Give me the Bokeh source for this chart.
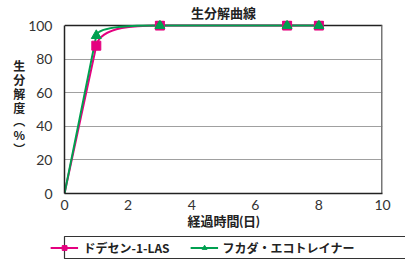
import numpy as np
from bokeh.plotting import figure
from bokeh.layouts import column
from bokeh.models import Range1d, Legend, LegendItem, FixedTicker, ColumnDataSource
from bokeh.embed import file_html
from bokeh.resources import INLINE

# ---- data ----
days = [0, 1, 3, 7, 8]
las = [0, 88, 100, 100, 100]
eco = [0, 94, 100, 100, 100]
series_names = ["ドデセン-1-LAS", "フカダ・エコトレイナー"]
x_ticks = [0, 2, 4, 6, 8, 10]
y_ticks = [0, 20, 40, 60, 80, 100]
title_text = "生分解曲線"
x_label = "経過時間(日)"
y_label = "生\n分\n解\n度\n︵\n%\n︶"

colors = ["#e4007f", "#00a050"]
markers = ["square", "triangle"]
msizes = [9, 10]
JP = "Noto Sans CJK JP"
MIX = "Lato, 'Noto Sans CJK JP'"


def smooth_segments(x, y):
    """Bezier control points for a smoothed line (rendering only)."""
    n = len(x)
    sec = [(y[i + 1] - y[i]) / (x[i + 1] - x[i]) for i in range(n - 1)]
    tan = []
    for i in range(n):
        if i == 0:
            tan.append(sec[0])
        elif i == n - 1:
            tan.append(sec[-1])
        elif y[i] in (y[i - 1], y[i + 1]):
            tan.append(0.0)
        else:
            tan.append(sec[i - 1] if abs(sec[i - 1]) > abs(sec[i]) else sec[i])
    out = dict(x0=[], y0=[], x1=[], y1=[], cx0=[], cy0=[], cx1=[], cy1=[])
    for i in range(n - 1):
        h = (x[i + 1] - x[i]) / 3.0
        lo, hi = min(y[i], y[i + 1]), max(y[i], y[i + 1])
        dx0, dy0 = h, tan[i] * h
        if y[i] + dy0 > hi and dy0 != 0:
            s = (hi - y[i]) / dy0; dx0 *= s; dy0 *= s
        if y[i] + dy0 < lo and dy0 != 0:
            s = (lo - y[i]) / dy0; dx0 *= s; dy0 *= s
        dx1, dy1 = h, tan[i + 1] * h
        if y[i + 1] - dy1 > hi and dy1 != 0:
            s = (y[i + 1] - hi) / dy1; dx1 *= s; dy1 *= s
        if y[i + 1] - dy1 < lo and dy1 != 0:
            s = (y[i + 1] - lo) / dy1; dx1 *= s; dy1 *= s
        out["x0"].append(x[i]); out["y0"].append(y[i])
        out["x1"].append(x[i + 1]); out["y1"].append(y[i + 1])
        out["cx0"].append(x[i] + dx0); out["cy0"].append(y[i] + dy0)
        out["cx1"].append(x[i + 1] - dx1); out["cy1"].append(y[i + 1] - dy1)
    return ColumnDataSource(out)


y_top = y_ticks[-1]
p = figure(frame_width=318, frame_height=173, output_backend="svg", toolbar_location=None,
           x_range=Range1d(x_ticks[0], x_ticks[-1]), y_range=Range1d(y_ticks[0], y_top * 1.03),
           min_border_left=64, min_border_right=23, min_border_top=20, min_border_bottom=40)

p.title.text = title_text
p.title.align = "center"
p.title.text_font = MIX
p.title.text_font_size = "13px"
p.title.text_font_style = "bold"
p.title.text_color = "#222222"
p.title.standoff = 0

p.xgrid.grid_line_color = None
p.ygrid.grid_line_color = "#a0a0a0"
p.ygrid.grid_line_width = 1.2
p.ygrid.ticker = FixedTicker(ticks=y_ticks[:-1])
p.outline_line_color = None

for ax in (p.xaxis[0], p.yaxis[0]):
    ax.major_tick_line_color = None
    ax.minor_tick_line_color = None
    ax.axis_line_color = "#222222"
    ax.axis_line_width = 1.5
    ax.major_label_text_font = "Lato"
    ax.major_label_text_font_size = "14px"
    ax.major_label_text_color = "#333333"
    ax.major_label_text_font_style = "normal"

p.yaxis.bounds = (y_ticks[0], y_top)
p.xaxis.ticker = FixedTicker(ticks=x_ticks)
p.yaxis.ticker = FixedTicker(ticks=y_ticks)
p.xaxis.major_label_standoff = 0
p.yaxis.major_label_standoff = 6
p.xaxis.axis_label = x_label
p.xaxis.axis_label_text_font = MIX
p.xaxis.axis_label_text_font_size = "13px"
p.xaxis.axis_label_text_font_style = "bold"
p.xaxis.axis_label_text_color = "#222222"
p.xaxis.axis_label_standoff = 0

p.yaxis.axis_label = y_label
p.yaxis.axis_label_orientation = "horizontal"
p.yaxis.axis_label_text_font = JP
p.yaxis.axis_label_text_font_size = "12px"
p.yaxis.axis_label_text_font_style = "bold"
p.yaxis.axis_label_text_color = "#222222"
p.yaxis.axis_label_text_line_height = 0.82
p.yaxis.axis_label_standoff = 0

# frame border (top at 100, right at 10)
p.segment(x0=[x_ticks[0]], y0=[y_top], x1=[x_ticks[-1]], y1=[y_top],
          line_color="#222222", line_width=1.5)
p.segment(x0=[x_ticks[-1]], y0=[y_ticks[0]], x1=[x_ticks[-1]], y1=[y_top],
          line_color="#777777", line_width=3)

for vals, col in zip([las, eco], colors):
    src = smooth_segments(days, vals)
    p.bezier(x0="x0", y0="y0", x1="x1", y1="y1", cx0="cx0", cy0="cy0",
             cx1="cx1", cy1="cy1", source=src, line_color=col, line_width=2)
for vals, col, mk, sz in zip([las, eco], colors, markers, msizes):
    mx = [d for d in days if d > days[0]]
    my = [v for d, v in zip(days, vals) if d > days[0]]
    p.scatter(mx, my, marker=mk, size=sz, fill_color=col, line_color=col)

# ---- legend strip (its frame is the legend box; series drawn outside its view) ----
q = figure(frame_width=361, frame_height=22, output_backend="svg", toolbar_location=None,
           x_axis_type=None, y_axis_type=None, x_range=Range1d(-2, -1), y_range=Range1d(-2, -1),
           min_border_left=22, min_border_right=22, min_border_top=3, min_border_bottom=1)
q.outline_line_color = "#333333"
q.outline_line_width = 1.2
q.grid.visible = False
items = []
for name, vals, col, mk, sz in zip(series_names, [las, eco], colors, markers, msizes):
    r1 = q.line(x=days, y=vals, line_color=col, line_width=2)
    r2 = q.scatter(x=days, y=vals, marker=mk, size=sz - 1, fill_color=col, line_color=col)
    items.append(LegendItem(label=name, renderers=[r1, r2]))
legend = Legend(items=items, orientation="horizontal", location="center",
                label_text_font=JP, label_text_font_size="12px", label_text_font_style="bold",
                label_text_color="#222222", border_line_color=None, background_fill_alpha=0,
                glyph_width=28, glyph_height=12, label_standoff=5, spacing=20,
                padding=0, margin=0, label_height=14)
q.add_layout(legend, "center")

open("out.html", "w").write(file_html(column(p, q, spacing=0), INLINE))
